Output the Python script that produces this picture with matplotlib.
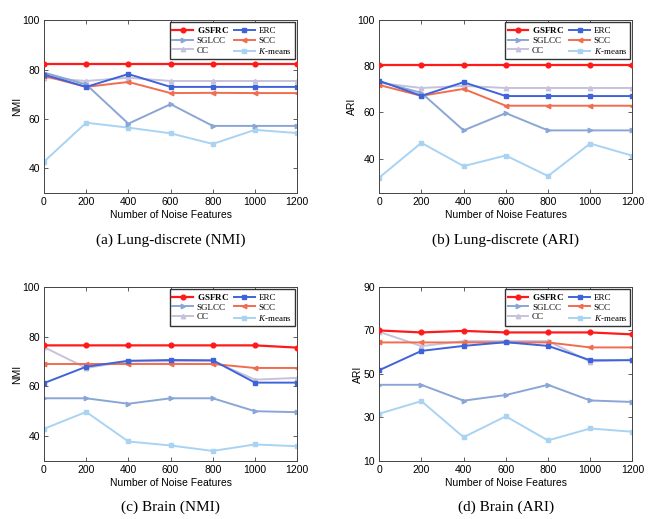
import matplotlib
matplotlib.use('Agg')
import matplotlib.pyplot as plt

# noise features on x axis
noise = [0, 200, 400, 600, 800, 1000, 1200]

methods = ['GSFRC', 'ERC', 'SGLCC', 'SCC', 'CC', 'K-means']

# (a) Lung-discrete NMI
lung_nmi_gsfrc = [82.1, 82.1, 82.1, 82.1, 82.1, 82.1, 82.1]
lung_nmi_erc = [78.0, 73.0, 78.2, 73.0, 73.0, 73.0, 73.0]
lung_nmi_sglcc = [78.8, 74.0, 58.1, 66.0, 57.2, 57.2, 57.2]
lung_nmi_scc = [77.5, 73.0, 75.0, 70.5, 70.6, 70.5, 70.5]
lung_nmi_cc = [76.7, 75.4, 76.7, 75.4, 75.4, 75.4, 75.4]
lung_nmi_km = [42.7, 58.5, 56.5, 54.2, 49.9, 55.6, 54.3]

# (b) Lung-discrete ARI
lung_ari_gsfrc = [80.4, 80.4, 80.4, 80.4, 80.4, 80.4, 80.4]
lung_ari_erc = [73.7, 67.2, 73.1, 67.1, 67.1, 67.1, 67.1]
lung_ari_sglcc = [73.4, 68.5, 52.2, 59.7, 52.2, 52.2, 52.2]
lung_ari_scc = [71.9, 67.2, 70.2, 62.9, 62.9, 62.9, 62.9]
lung_ari_cc = [72.8, 70.6, 71.5, 70.6, 70.6, 70.6, 70.6]
lung_ari_km = [31.7, 46.8, 36.7, 41.3, 32.4, 46.5, 41.2]

# (c) Brain NMI
brain_nmi_gsfrc = [76.5, 76.5, 76.5, 76.5, 76.5, 76.5, 75.6]
brain_nmi_erc = [61.3, 67.9, 70.3, 70.6, 70.5, 61.5, 61.5]
brain_nmi_sglcc = [55.2, 55.2, 53.0, 55.2, 55.2, 50.0, 49.6]
brain_nmi_scc = [69.0, 69.0, 69.0, 69.0, 69.0, 67.4, 67.4]
brain_nmi_cc = [75.8, 67.4, 70.1, 70.1, 70.2, 62.7, 63.4]
brain_nmi_km = [42.9, 49.7, 37.8, 36.2, 34.0, 36.6, 35.9]

# (d) Brain ARI
brain_ari_gsfrc = [70.0, 69.1, 69.8, 69.1, 69.1, 69.1, 68.2]
brain_ari_erc = [51.7, 60.6, 62.9, 64.6, 62.9, 56.3, 56.3]
brain_ari_sglcc = [45.0, 45.0, 37.7, 40.3, 45.0, 37.8, 37.1]
brain_ari_scc = [64.5, 64.5, 64.5, 64.5, 64.5, 62.2, 62.2]
brain_ari_cc = [69.4, 62.8, 65.1, 65.1, 65.1, 55.7, 56.6]
brain_ari_km = [31.7, 37.5, 20.9, 30.5, 19.4, 24.9, 23.4]

styles = {
    'GSFRC': dict(color='#ff1a1a', marker='o', ms=3.4, lw=1.6),
    'ERC': dict(color='#3f63d8', marker='s', ms=2.6, lw=1.4),
    'SGLCC': dict(color='#8aa6d6', marker='>', ms=3.2, lw=1.4),
    'SCC': dict(color='#f26c4f', marker='<', ms=3.2, lw=1.4),
    'CC': dict(color='#c6c2dc', marker='^', ms=3.2, lw=1.4),
    'K-means': dict(color='#a9d3f2', marker='s', ms=2.4, lw=1.4),
}
labels = {'GSFRC': r'$\mathbf{GSFRC}$', 'ERC': 'ERC', 'SGLCC': 'SGLCC',
          'SCC': 'SCC', 'CC': 'CC', 'K-means': r'$K$-means'}

panels = [
    ([0.067, 0.628, 0.386, 0.333], 'NMI', (30, 100), [40, 60, 80, 100], '(a) Lung-discrete (NMI)', 0.538,
     [lung_nmi_gsfrc, lung_nmi_erc, lung_nmi_sglcc, lung_nmi_scc, lung_nmi_cc, lung_nmi_km]),
    ([0.578, 0.628, 0.386, 0.333], 'ARI', (25, 100), [40, 60, 80, 100], '(b) Lung-discrete (ARI)', 0.538,
     [lung_ari_gsfrc, lung_ari_erc, lung_ari_sglcc, lung_ari_scc, lung_ari_cc, lung_ari_km]),
    ([0.067, 0.112, 0.386, 0.335], 'NMI', (30, 100), [40, 60, 80, 100], '(c) Brain (NMI)', 0.023,
     [brain_nmi_gsfrc, brain_nmi_erc, brain_nmi_sglcc, brain_nmi_scc, brain_nmi_cc, brain_nmi_km]),
    ([0.578, 0.112, 0.386, 0.335], 'ARI', (10, 90), [10, 30, 50, 70, 90], '(d) Brain (ARI)', 0.023,
     [brain_ari_gsfrc, brain_ari_erc, brain_ari_sglcc, brain_ari_scc, brain_ari_cc, brain_ari_km]),
]

plt.rcParams['mathtext.fontset'] = 'custom'
plt.rcParams['mathtext.rm'] = 'Liberation Serif'
plt.rcParams['mathtext.it'] = 'Liberation Serif:italic'
plt.rcParams['mathtext.bf'] = 'Liberation Serif:bold'

fig = plt.figure(figsize=(6.56, 5.19), dpi=100)

for rect, ylab, ylim, yticks, caption, capy, series in panels:
    ax = fig.add_axes(rect)
    # legend order is column-wise
    order = ['GSFRC', 'SGLCC', 'CC', 'ERC', 'SCC', 'K-means']
    data = dict(zip(methods, series))
    for m in methods[::-1]:
        st = styles[m]
        ax.plot(noise, data[m], color=st['color'], marker=st['marker'], markersize=st['ms'],
                linewidth=st['lw'], label=labels[m], zorder=3 if m == 'GSFRC' else 2)
    handles, labs = ax.get_legend_handles_labels()
    hmap = dict(zip(labs, handles))
    ax.legend([hmap[labels[m]] for m in order], [labels[m] for m in order],
              ncol=2, loc='upper right', prop={'family': 'Liberation Serif', 'size': 6.5},
              frameon=True, fancybox=False, edgecolor='#333333', framealpha=1,
              borderpad=0.3, labelspacing=0.15, handlelength=2.3, handletextpad=0.4,
              columnspacing=0.6, borderaxespad=0.25)
    ax.set_xlim(0, 1200)
    ax.set_ylim(*ylim)
    ax.set_xticks(noise)
    ax.set_yticks(yticks)
    ax.tick_params(direction='in', length=3, width=0.6, labelsize=7.5, top=True, right=True,
                   pad=3, colors='#444444', labelcolor='black')
    for lab in ax.get_xticklabels() + ax.get_yticklabels():
        lab.set_fontfamily('Liberation Sans')
    for sp in ax.spines.values():
        sp.set_linewidth(0.7)
        sp.set_color('#444444')
    ax.set_xlabel('Number of Noise Features', fontsize=7.5, family='Liberation Sans', labelpad=2)
    ax.set_ylabel(ylab, fontsize=7.5, family='Liberation Sans', labelpad=0.5)
    cx = rect[0] + rect[2] / 2
    fig.text(cx, capy, caption, ha='center', va='center', fontsize=11, family='Liberation Serif')

fig.savefig('out.png', dpi=100)
